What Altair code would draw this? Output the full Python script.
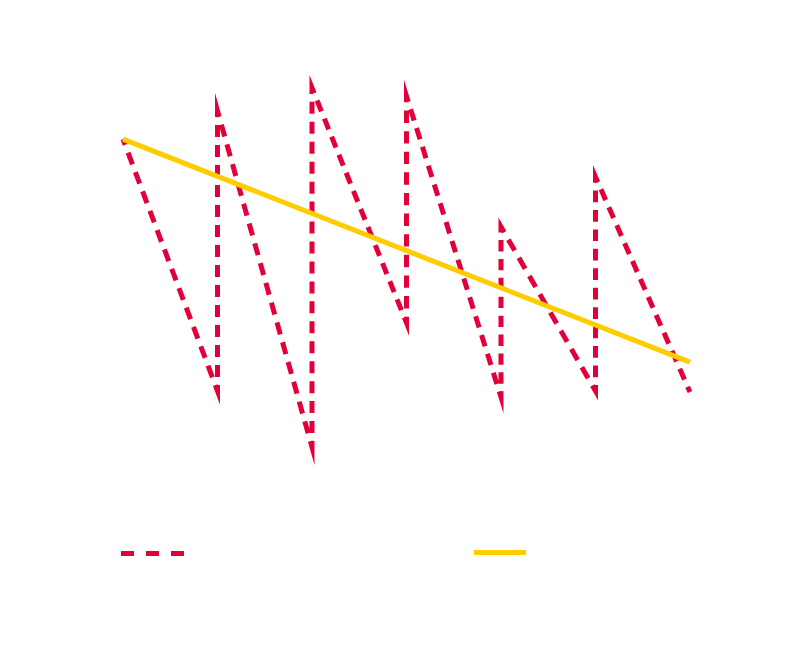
import math
import altair as alt
import pandas as pd

# Red dashed series (sawtooth)
red_x = [0, 1, 1, 2, 2, 3, 3, 4, 4, 5, 5, 6]
red_y = [80.7, 19.3, 87.6, 5.6, 93.2, 35.9, 91.2, 17.8, 59.3, 19.3, 71.5, 19.0]
# Yellow trend line
trend_x = [0, 6]
trend_y = [80.7, 26.3]

RED = "#e2003a"
YELLOW = "#ffcc00"

W, H = 567, 410
X_DOM = [0, 6]
Y_DOM = [0, 100]

# Dash pattern restarted at each vertex (dash centred on every corner)
def vertex_dash(xs, ys, period=20.0, frac=0.6):
    pts = [((x - X_DOM[0]) / (X_DOM[1] - X_DOM[0]) * W,
            (Y_DOM[1] - y) / (Y_DOM[1] - Y_DOM[0]) * H) for x, y in zip(xs, ys)]
    arr = []
    cur = 0.0
    for (x1, y1), (x2, y2) in zip(pts[:-1], pts[1:]):
        L = math.hypot(x2 - x1, y2 - y1)
        n = max(1, round(L / period))
        p = L / n
        d, g = p * frac, p * (1 - frac)
        cur += d / 2
        for k in range(n):
            arr += [round(cur, 2), round(g, 2)]
            cur = d if k < n - 1 else d / 2
    arr += [round(cur, 2), 2000]
    return arr

red_dash = vertex_dash(red_x, red_y)

red_df = pd.DataFrame({"x": red_x, "y": red_y, "idx": list(range(len(red_x))), "kind": ["Series"] * len(red_x)})
trend_df = pd.DataFrame({"x": trend_x, "y": trend_y, "trend": ["Trend"] * len(trend_x)})

xs = alt.Scale(domain=X_DOM, nice=False, zero=False)
ys = alt.Scale(domain=Y_DOM, nice=False, zero=False)

red = alt.Chart(red_df).mark_line(
    strokeWidth=5, strokeDash=red_dash, strokeMiterLimit=20, strokeCap="butt", strokeJoin="miter"
).encode(
    x=alt.X("x:Q", scale=xs, axis=None),
    y=alt.Y("y:Q", scale=ys, axis=None),
    order="idx:Q",
    color=alt.Color("kind:N", scale=alt.Scale(domain=["Series"], range=[RED]),
                    legend=alt.Legend(orient="none", legendX=-4.5, legendY=459.5, title=None,
                                      symbolType="stroke", symbolSize=3969, symbolStrokeWidth=5,
                                      symbolDash=[13, 12], labelExpr="''")),
)

trend = alt.Chart(trend_df).mark_line(strokeWidth=5, strokeCap="butt").encode(
    x=alt.X("x:Q", scale=xs, axis=None),
    y=alt.Y("y:Q", scale=ys, axis=None),
    color=alt.Color("trend:N", scale=alt.Scale(domain=["Trend"], range=[YELLOW]),
                    legend=alt.Legend(orient="none", legendX=348.5, legendY=464, title=None,
                                      symbolType="stroke", symbolSize=2704, symbolStrokeWidth=5,
                                      labelExpr="''")),
)

chart = alt.layer(red, trend).resolve_scale(color="independent").resolve_legend(color="independent").properties(
    width=W, height=H,
    padding={"left": 115, "top": 52, "right": 90, "bottom": 170},
    autosize=alt.AutoSizeParams(type="none"),
).configure_view(stroke=None)

chart.save("out.html", embed_options={"renderer": "svg", "actions": False})
